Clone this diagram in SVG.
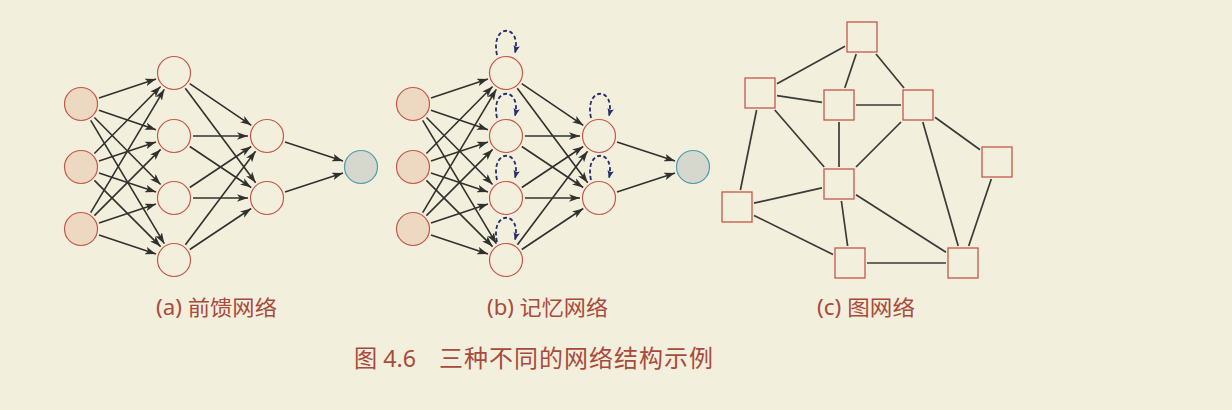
<svg xmlns="http://www.w3.org/2000/svg" width="1232" height="410" viewBox="0 0 1232 410">
<defs>
<style>
.bg{fill:#f3efdd}
.n{fill:#f3efdd;stroke:#c4584b;stroke-width:1.2}
.in{fill:#edd8c1}
.out{fill:#d6d7cd;stroke:#4a9db0}
.lp{fill:none;stroke:#272d6c;stroke-width:1.8;stroke-dasharray:4 2.5;marker-end:url(#lh)}
.sq{fill:#f3efdd;stroke:#c4584b;stroke-width:1.3}
.ge line{stroke:#3a3a36;stroke-width:1.7}
.t{font-family:"Noto Sans","Noto Sans CJK SC",sans-serif;fill:#a84a3c}
</style>
<marker id="ah" viewBox="0 0 10 7" refX="10" refY="3.5" markerWidth="11" markerHeight="7.7" markerUnits="userSpaceOnUse" orient="auto">
<path d="M0,0 L10,3.5 L0,7 L2.5,3.5 z" fill="#30302d" stroke="none"/>
</marker>
<marker id="lh" viewBox="0 0 7 6" refX="7" refY="3" markerWidth="7.5" markerHeight="6.5" markerUnits="userSpaceOnUse" orient="auto">
<path d="M0,0 L7,3 L0,6 L1.5,3 z" fill="#272d6c" stroke="none"/>
</marker>
<g id="ffedges" stroke="#30302d" stroke-width="1.6" marker-end="url(#ah)">
<line x1="99" y1="98" x2="156" y2="79"/>
<line x1="99" y1="110.2" x2="156" y2="129.8"/>
<line x1="94.4" y1="117.5" x2="160.6" y2="184.5"/>
<line x1="90.7" y1="120.3" x2="164.3" y2="243.7"/>
<line x1="94.4" y1="153.5" x2="160.6" y2="86.5"/>
<line x1="99" y1="161" x2="156" y2="142"/>
<line x1="99" y1="173" x2="156" y2="192"/>
<line x1="94.4" y1="180.4" x2="160.6" y2="246.6"/>
<line x1="90.7" y1="212.7" x2="164.3" y2="89.3"/>
<line x1="94.4" y1="215.6" x2="160.6" y2="149.4"/>
<line x1="99" y1="223" x2="156" y2="204"/>
<line x1="99" y1="235" x2="156" y2="254"/>
<line x1="189.7" y1="83.7" x2="251.3" y2="125.3"/>
<line x1="185.3" y1="88.2" x2="255.7" y2="182.8"/>
<line x1="193" y1="136" x2="248" y2="136"/>
<line x1="189.8" y1="146.5" x2="251.2" y2="187.5"/>
<line x1="189.8" y1="187.5" x2="251.2" y2="146.5"/>
<line x1="193" y1="198" x2="248" y2="198"/>
<line x1="185.4" y1="244.8" x2="255.6" y2="151.2"/>
<line x1="189.8" y1="249.5" x2="251.2" y2="208.5"/>
<line x1="285" y1="142" x2="343" y2="161"/>
<line x1="285" y1="192" x2="343" y2="173"/>
</g>
</defs>
<rect class="bg" x="0" y="0" width="1232" height="410"/>

<!-- (a) feedforward -->
<g id="connectors-a"><use href="#ffedges"/></g>
<g id="a-in1"><circle class="n in" cx="81" cy="104" r="16.5"/></g>
<g id="a-in2"><circle class="n in" cx="81" cy="167" r="16.5"/></g>
<g id="a-in3"><circle class="n in" cx="81" cy="229" r="16.5"/></g>
<g id="a-h1"><circle class="n" cx="174" cy="73" r="16.5"/></g>
<g id="a-h2"><circle class="n" cx="174" cy="136" r="16.5"/></g>
<g id="a-h3"><circle class="n" cx="174" cy="198" r="16.5"/></g>
<g id="a-h4"><circle class="n" cx="174" cy="260" r="16.5"/></g>
<g id="a-g1"><circle class="n" cx="267" cy="136" r="16.5"/></g>
<g id="a-g2"><circle class="n" cx="267" cy="198" r="16.5"/></g>
<g id="a-out"><circle class="n out" cx="361" cy="167" r="16.5"/></g>

<!-- (b) memory -->
<g id="connectors-b" transform="translate(332,0)"><use href="#ffedges"/></g>
<g id="loops-b">
<path class="lp" transform="translate(506,73)" d="M-9,-18 C-16,-50 16,-50 9,-20"/>
<path class="lp" transform="translate(506,136)" d="M-9,-18 C-16,-50 16,-50 9,-20"/>
<path class="lp" transform="translate(506,198)" d="M-9,-18 C-16,-50 16,-50 9,-20"/>
<path class="lp" transform="translate(506,260)" d="M-9,-18 C-16,-50 16,-50 9,-20"/>
<path class="lp" transform="translate(600,136)" d="M-9,-18 C-16,-50 16,-50 9,-20"/>
<path class="lp" transform="translate(600,198)" d="M-9,-18 C-16,-50 16,-50 9,-20"/>
</g>
<g id="b-in1"><circle class="n in" cx="413" cy="104" r="16.5"/></g>
<g id="b-in2"><circle class="n in" cx="413" cy="167" r="16.5"/></g>
<g id="b-in3"><circle class="n in" cx="413" cy="229" r="16.5"/></g>
<g id="b-h1"><circle class="n" cx="506" cy="73" r="16.5"/></g>
<g id="b-h2"><circle class="n" cx="506" cy="136" r="16.5"/></g>
<g id="b-h3"><circle class="n" cx="506" cy="198" r="16.5"/></g>
<g id="b-h4"><circle class="n" cx="506" cy="260" r="16.5"/></g>
<g id="b-g1"><circle class="n" cx="599" cy="136" r="16.5"/></g>
<g id="b-g2"><circle class="n" cx="599" cy="198" r="16.5"/></g>
<g id="b-out"><circle class="n out" cx="693" cy="167" r="16.5"/></g>

<!-- (c) graph -->
<g id="connectors-c" class="ge">
<line x1="845" y1="46.3" x2="777" y2="83.7"/>
<line x1="856.2" y1="54" x2="844.8" y2="88"/>
<line x1="876" y1="54" x2="904" y2="88"/>
<line x1="777" y1="95.6" x2="822" y2="102.4"/>
<line x1="856" y1="105" x2="901" y2="105"/>
<line x1="774.8" y1="110" x2="824.2" y2="167"/>
<line x1="839" y1="122" x2="839" y2="167"/>
<line x1="901" y1="122" x2="856" y2="167"/>
<line x1="756.6" y1="110" x2="740.4" y2="190"/>
<line x1="935" y1="117.3" x2="980" y2="149.7"/>
<line x1="922.8" y1="122" x2="958.2" y2="246"/>
<line x1="991.3" y1="179" x2="968.7" y2="246"/>
<line x1="822" y1="187.8" x2="754" y2="203.2"/>
<line x1="841.4" y1="201" x2="847.6" y2="246"/>
<line x1="856" y1="194.8" x2="946" y2="252.2"/>
<line x1="754" y1="215.4" x2="833" y2="254.6"/>
<line x1="867" y1="263" x2="946" y2="263"/>
</g>
<g id="c-1"><rect class="sq" x="847" y="22" width="30" height="30"/></g>
<g id="c-2"><rect class="sq" x="745" y="78" width="30" height="30"/></g>
<g id="c-3"><rect class="sq" x="824" y="90" width="30" height="30"/></g>
<g id="c-4"><rect class="sq" x="903" y="90" width="30" height="30"/></g>
<g id="c-5"><rect class="sq" x="982" y="147" width="30" height="30"/></g>
<g id="c-6"><rect class="sq" x="824" y="169" width="30" height="30"/></g>
<g id="c-7"><rect class="sq" x="722" y="192" width="30" height="30"/></g>
<g id="c-8"><rect class="sq" x="835" y="248" width="30" height="30"/></g>
<g id="c-9"><rect class="sq" x="948" y="248" width="30" height="30"/></g>

<!-- labels -->
<text class="t" x="156" y="315" font-size="21" textLength="121" lengthAdjust="spacingAndGlyphs">(a) 前馈网络</text>
<text class="t" x="487" y="315" font-size="21" textLength="121" lengthAdjust="spacingAndGlyphs">(b) 记忆网络</text>
<text class="t" x="817" y="315" font-size="21" textLength="98" lengthAdjust="spacingAndGlyphs">(c) 图网络</text>
<text class="t" x="354" y="367" font-size="24" textLength="62" lengthAdjust="spacingAndGlyphs">图 4.6</text>
<text class="t" x="439" y="367" font-size="24" textLength="274" lengthAdjust="spacing">三种不同的网络结构示例</text>
</svg>
